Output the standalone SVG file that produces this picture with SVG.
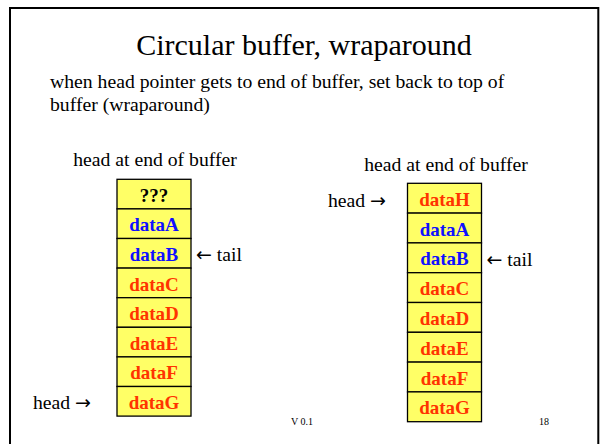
<svg xmlns="http://www.w3.org/2000/svg" width="605" height="444" viewBox="0 0 605 444">
<style>
text{font-family:"Liberation Serif","Times New Roman",serif;fill:#000}
.title{font-size:30px;text-anchor:middle}
.body{font-size:19.7px}
.lbl{font-size:19.7px}
.arr{font-family:"DejaVu Sans",sans-serif;font-size:19px}
.mid{text-anchor:middle}
.cell{fill:#FFFF66;stroke:#000;stroke-width:1.3}
.ct{font-size:19px;font-weight:bold;text-anchor:middle}
.blue{fill:#1010FF}
.red{fill:#FF3300}
.blk{fill:#000}
.small{font-size:10px}
</style>
<rect x="0" y="0" width="605" height="444" fill="#fff"/>
<rect x="10" y="8" width="588.3" height="460" fill="none" stroke="#000" stroke-width="2"/>
<text class="title" x="304" y="55">Circular buffer, wraparound</text>
<text class="body" x="50" y="88">when head pointer gets to end of buffer, set back to top of</text>
<text class="body" x="50" y="111">buffer (wraparound)</text>

<g id="left-buffer">
<text class="lbl mid" x="155" y="166">head at end of buffer</text>
<g id="L0"><rect class="cell" x="117" y="179.3" width="74" height="29.6"/><text class="ct blk" x="154" y="201.8">???</text></g>
<g id="L1"><rect class="cell" x="117" y="208.9" width="74" height="29.6"/><text class="ct blue" x="154" y="231.4">dataA</text></g>
<g id="L2"><rect class="cell" x="117" y="238.5" width="74" height="29.6"/><text class="ct blue" x="154" y="261">dataB</text></g>
<g id="L3"><rect class="cell" x="117" y="268.1" width="74" height="29.6"/><text class="ct red" x="154" y="290.6">dataC</text></g>
<g id="L4"><rect class="cell" x="117" y="297.7" width="74" height="29.6"/><text class="ct red" x="154" y="320.2">dataD</text></g>
<g id="L5"><rect class="cell" x="117" y="327.3" width="74" height="29.6"/><text class="ct red" x="154" y="349.8">dataE</text></g>
<g id="L6"><rect class="cell" x="117" y="356.9" width="74" height="29.6"/><text class="ct red" x="154" y="379.4">dataF</text></g>
<g id="L7"><rect class="cell" x="117" y="386.5" width="74" height="29.6"/><text class="ct red" x="154" y="409">dataG</text></g>
<text class="lbl" x="196" y="261"><tspan class="arr">←</tspan> tail</text>
<text class="lbl" x="33" y="408.5">head <tspan class="arr">→</tspan></text>
</g>

<g id="right-buffer">
<text class="lbl mid" x="446" y="170.5">head at end of buffer</text>
<g id="R0"><rect class="cell" x="407.5" y="183.3" width="74" height="29.8"/><text class="ct red" x="444.5" y="205.8">dataH</text></g>
<g id="R1"><rect class="cell" x="407.5" y="213.1" width="74" height="29.8"/><text class="ct blue" x="444.5" y="235.6">dataA</text></g>
<g id="R2"><rect class="cell" x="407.5" y="242.9" width="74" height="29.8"/><text class="ct blue" x="444.5" y="265.4">dataB</text></g>
<g id="R3"><rect class="cell" x="407.5" y="272.7" width="74" height="29.8"/><text class="ct red" x="444.5" y="295.2">dataC</text></g>
<g id="R4"><rect class="cell" x="407.5" y="302.5" width="74" height="29.8"/><text class="ct red" x="444.5" y="325">dataD</text></g>
<g id="R5"><rect class="cell" x="407.5" y="332.3" width="74" height="29.8"/><text class="ct red" x="444.5" y="354.8">dataE</text></g>
<g id="R6"><rect class="cell" x="407.5" y="362.1" width="74" height="29.8"/><text class="ct red" x="444.5" y="384.6">dataF</text></g>
<g id="R7"><rect class="cell" x="407.5" y="391.9" width="74" height="29.8"/><text class="ct red" x="444.5" y="414.4">dataG</text></g>
<text class="lbl" x="486.5" y="266"><tspan class="arr">←</tspan> tail</text>
<text class="lbl" x="328" y="207">head <tspan class="arr">→</tspan></text>
</g>

<g id="connectors"></g>

<text class="small" x="291" y="425">V 0.1</text>
<text class="small" x="539" y="425">18</text>
</svg>
